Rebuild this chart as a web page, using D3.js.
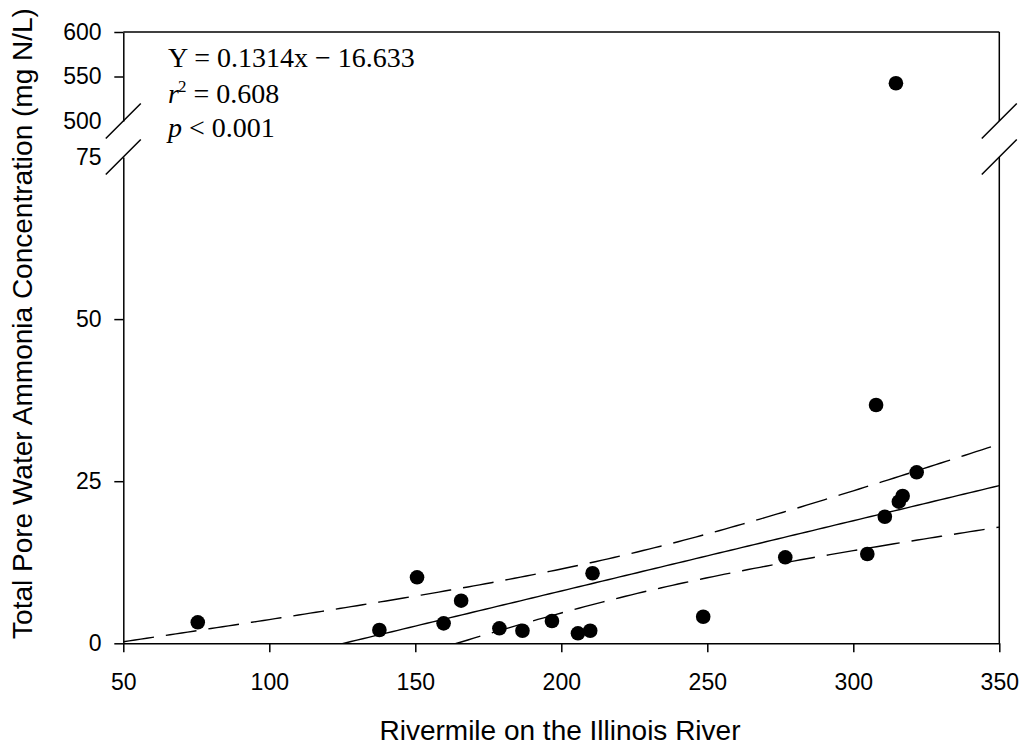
<!DOCTYPE html>
<html>
<head>
<meta charset="utf-8">
<script src="https://cdn.jsdelivr.net/npm/d3@7"></script>
<style>
  html, body { margin: 0; padding: 0; background: #fff; }
  svg { display: block; }
  .sans { font-family: "Liberation Sans", Arial, sans-serif; }
  .serif { font-family: "Liberation Serif", "Times New Roman", serif; }
</style>
</head>
<body>
<svg id="chart" width="1024" height="748"></svg>
<script>
// Sampling sites: river mile and total pore-water ammonia (mg N/L)
const rivermile = [75.5, 137.7, 150.6, 159.7, 165.7, 178.8, 186.7, 196.8, 205.7, 209.9,
                   210.7, 248.6, 276.7, 304.8, 307.8, 310.8, 315.6, 316.9, 321.7, 314.6];
const ammonia   = [3.24, 2.05, 10.18, 3.08, 6.57, 2.31, 1.94, 3.44, 1.54, 1.94,
                   10.8, 4.1, 13.26, 13.77, 36.75, 19.52, 21.84, 22.72, 26.37, 542.4];

// Axis ticks
const xTicks = [50, 100, 150, 200, 250, 300, 350];
const yTicksLow = [0, 25, 50, 75];
const yTicksHigh = [500, 550, 600];

// Annotation lines
const statsText = { slope: "0.1314", intercept: "16.633", r2: "0.608", p: "0.001" };

// Student t (two-sided 95%, 17 df) for the confidence band
const tCrit = 2.1098;

const svg = d3.select("#chart");

const x = d3.scaleLinear().domain([50, 350]).range([123.3, 999.3]);
// Broken y axis: lower segment 0–75, upper segment 500–600
const yLow = d3.scaleLinear().domain([0, 75]).range([643.3, 157]);
const yHigh = d3.scaleLinear().domain([500, 600]).range([121, 32]);
const yOf = v => v > 75 ? yHigh(v) : yLow(v);

const pts = rivermile.map((r, i) => ({ x: r, y: ammonia[i] }));
// Least-squares fit over the on-scale sites (the off-scale outlier is excluded)
const fitPts = pts.filter(d => d.y <= 75);
const n = fitPts.length;
const mx = d3.mean(fitPts, d => d.x);
const my = d3.mean(fitPts, d => d.y);
const sxx = d3.sum(fitPts, d => (d.x - mx) ** 2);
const sxy = d3.sum(fitPts, d => (d.x - mx) * (d.y - my));
const b1 = sxy / sxx;
const b0 = my - b1 * mx;
const sse = d3.sum(fitPts, d => (d.y - (b0 + b1 * d.x)) ** 2);
const se = Math.sqrt(sse / (n - 2));

const grid = d3.range(50, 350.01, 2);
const fit = grid.map(v => ({ x: v, y: b0 + b1 * v }));
const half = v => tCrit * se * Math.sqrt(1 / n + (v - mx) ** 2 / sxx);
const upper = grid.map(v => ({ x: v, y: b0 + b1 * v + half(v) }));
const lower = grid.map(v => ({ x: v, y: b0 + b1 * v - half(v) }));

// Clip for the lower panel
svg.append("clipPath").attr("id", "lowClip")
  .append("rect")
  .attr("x", x(50)).attr("y", yLow(75))
  .attr("width", x(350) - x(50)).attr("height", yLow(0) - yLow(75));

const line = d3.line().x(d => x(d.x)).y(d => yLow(d.y));
const lines = svg.append("g").attr("clip-path", "url(#lowClip)");
lines.append("path").datum(fit).attr("d", line)
  .attr("fill", "none").attr("stroke", "#000").attr("stroke-width", 1.4);
[upper, lower].forEach(band => {
  lines.append("path").datum(band).attr("d", line)
    .attr("fill", "none").attr("stroke", "#000").attr("stroke-width", 1.4)
    .attr("stroke-dasharray", "31,12");
});

// Bottom axis
const gx = svg.append("g").attr("class", "sans")
  .attr("transform", `translate(0,${yLow(0)})`)
  .call(d3.axisBottom(x).tickValues(xTicks).tickSize(9).tickSizeOuter(0).tickPadding(21));

// Left axis, lower and upper segments
const gyLow = svg.append("g").attr("class", "sans")
  .attr("transform", `translate(${x(50)},0)`)
  .call(d3.axisLeft(yLow).tickValues(yTicksLow).tickSize(9).tickSizeOuter(0).tickPadding(12.8));
const gyHigh = svg.append("g").attr("class", "sans")
  .attr("transform", `translate(${x(50)},0)`)
  .call(d3.axisLeft(yHigh).tickValues(yTicksHigh).tickSize(9).tickSizeOuter(0).tickPadding(12.8));

// No tick marks where the axis breaks
gyLow.selectAll(".tick").filter(d => d === 75).select("line").remove();
gyHigh.selectAll(".tick").filter(d => d === 500).select("line").remove();

[gx, gyLow, gyHigh].forEach(g => {
  g.selectAll("path.domain").attr("stroke", "#000").attr("stroke-width", 1.5);
  g.selectAll(".tick line").attr("stroke", "#000").attr("stroke-width", 1.5);
  g.selectAll(".tick text").attr("font-size", 23).attr("fill", "#000")
    .attr("font-family", "Liberation Sans, Arial, sans-serif");
});

// Top and right frame
const frame = svg.append("g").attr("stroke", "#000").attr("stroke-width", 1.5).attr("fill", "none");
frame.append("line").attr("x1", x(50)).attr("x2", x(350)).attr("y1", yHigh(600)).attr("y2", yHigh(600));
frame.append("line").attr("x1", x(350)).attr("x2", x(350)).attr("y1", yHigh(600)).attr("y2", yHigh(500));
frame.append("line").attr("x1", x(350)).attr("x2", x(350)).attr("y1", yLow(75)).attr("y2", yLow(0));

// Break marks on both sides
[x(50), x(350)].forEach(cx => {
  [yHigh(500), yLow(75)].forEach(cy => {
    frame.append("line")
      .attr("x1", cx - 17.5).attr("y1", cy + 17.5)
      .attr("x2", cx + 17.5).attr("y2", cy - 17.5);
  });
});

// Data points
svg.append("g").selectAll("circle").data(pts).join("circle")
  .attr("cx", d => x(d.x)).attr("cy", d => yOf(d.y))
  .attr("r", 7.3).attr("fill", "#000");

// Axis titles
svg.append("text").attr("class", "sans")
  .attr("x", 560).attr("y", 740).attr("text-anchor", "middle")
  .attr("font-size", 28).text("Rivermile on the Illinois River");
svg.append("text").attr("class", "sans")
  .attr("transform", "translate(31.7,323.5) rotate(-90)")
  .attr("text-anchor", "middle").attr("font-size", 28)
  .text("Total Pore Water Ammonia Concentration (mg N/L)");

// Regression statistics
const ann = svg.append("g").attr("class", "serif").attr("font-size", 28).attr("fill", "#000");
ann.append("text").attr("x", 168).attr("y", 66.7)
  .text(`Y = ${statsText.slope}x \u2212 ${statsText.intercept}`);
const t2 = ann.append("text").attr("x", 168).attr("y", 102.7);
t2.append("tspan").attr("font-style", "italic").text("r");
t2.append("tspan").attr("font-size", 17).attr("dx", -1).attr("dy", -11).text("2");
t2.append("tspan").attr("dy", 11).text(` = ${statsText.r2}`);
const t3 = ann.append("text").attr("x", 168).attr("y", 136.7);
t3.append("tspan").attr("font-style", "italic").text("p");
t3.append("tspan").text(` < ${statsText.p}`);
</script>
</body>
</html>
